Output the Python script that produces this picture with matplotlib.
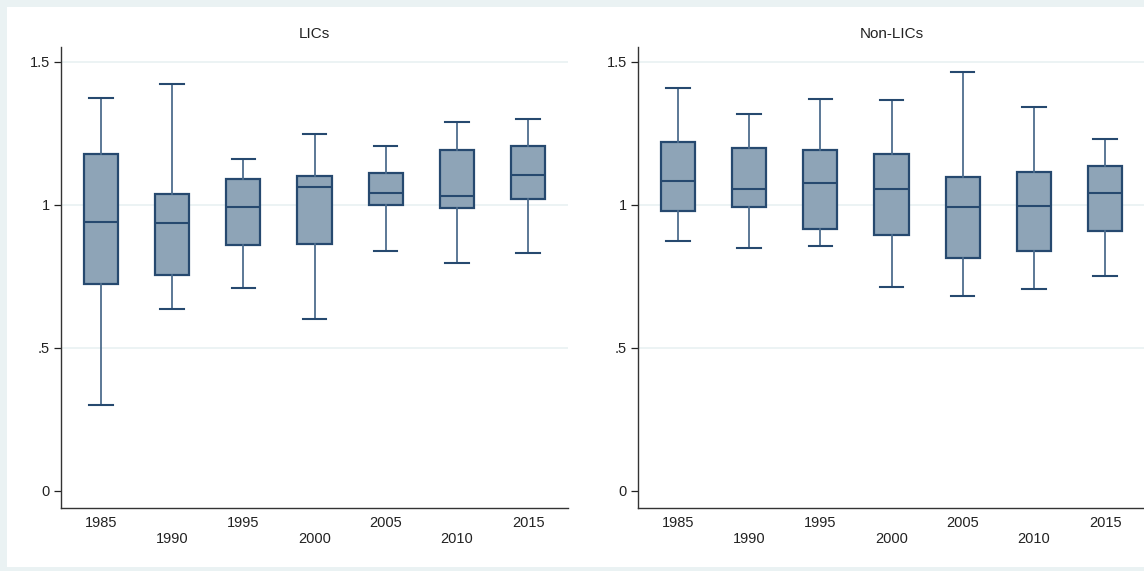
import matplotlib
matplotlib.use("Agg")
import matplotlib.pyplot as plt
from matplotlib.patches import Rectangle

plt.rcParams['font.family'] = ['Liberation Sans', 'DejaVu Sans']

# data
years = [1985, 1990, 1995, 2000, 2005, 2010, 2015]

lic_lo  = [0.302, 0.635, 0.710, 0.602, 0.838, 0.797, 0.832]
lic_q1  = [0.725, 0.755, 0.861, 0.864, 0.998, 0.988, 1.019]
lic_med = [0.939, 0.938, 0.994, 1.063, 1.043, 1.030, 1.105]
lic_q3  = [1.179, 1.038, 1.092, 1.101, 1.113, 1.192, 1.207]
lic_hi  = [1.375, 1.424, 1.162, 1.247, 1.205, 1.290, 1.299]

non_lo  = [0.873, 0.850, 0.855, 0.713, 0.682, 0.707, 0.751]
non_q1  = [0.979, 0.991, 0.916, 0.896, 0.815, 0.838, 0.908]
non_med = [1.082, 1.057, 1.075, 1.056, 0.994, 0.997, 1.040]
non_q3  = [1.219, 1.200, 1.193, 1.178, 1.097, 1.115, 1.136]
non_hi  = [1.408, 1.319, 1.371, 1.367, 1.464, 1.342, 1.231]

yticks = [0, 0.5, 1, 1.5]
ytick_labels = ["0", ".5", "1", "1.5"]

bg = "#EAF2F3"
edge = "#26496F"
whisk = "#4E6D8D"
fill = "#8EA4B7"

fig = plt.figure(figsize=(11.44, 5.71), dpi=100, facecolor=bg)
# white plot region (behind the axes)
fig.patches.append(Rectangle((7 / 1144, 4 / 571), 1.0, 560 / 571, transform=fig.transFigure,
                             facecolor="white", edgecolor="none", zorder=-10))


def panel(ax, title, lo, q1, med, q3, hi):
    stats = []
    for i in range(len(years)):
        stats.append(dict(whislo=lo[i], q1=q1[i], med=med[i], q3=q3[i], whishi=hi[i], fliers=[]))
    ax.bxp(stats, positions=range(len(years)), widths=0.48, capwidths=0.33,
           patch_artist=True, showfliers=False,
           boxprops=dict(facecolor=fill, edgecolor=edge, linewidth=1.6),
           medianprops=dict(color=edge, linewidth=1.5),
           whiskerprops=dict(color=whisk, linewidth=1.3),
           capprops=dict(color=edge, linewidth=1.5))
    for y in [0.5, 1, 1.5]:
        ax.axhline(y, color=bg, linewidth=1.3, zorder=0)
    ax.set_xlim(-0.56, 6.56)
    ax.set_ylim(-0.058, 1.551)
    ax.set_yticks(yticks)
    ax.set_yticklabels(ytick_labels)
    ax.set_xticks(range(len(years)))
    ax.set_xticklabels([str(y) if i % 2 == 0 else "\n" + str(y) for i, y in enumerate(years)])
    ax.tick_params(axis="x", length=0, pad=6, labelsize=10.5, colors="#222222")
    ax.tick_params(axis="y", length=5, width=0.9, pad=3, labelsize=10.5, colors="#222222")
    for s in ["top", "right"]:
        ax.spines[s].set_visible(False)
    for s in ["left", "bottom"]:
        ax.spines[s].set_color("#333333")
        ax.spines[s].set_linewidth(1.0)
    ax.set_facecolor("white")
    ax.set_title(title, fontsize=11, color="#222222", pad=7)


ax1 = fig.add_axes([61 / 1144, 63.5 / 571, 507 / 1144, 460.2 / 571])
ax2 = fig.add_axes([638 / 1144, 63.5 / 571, 507 / 1144, 460.2 / 571])
panel(ax1, "LICs", lic_lo, lic_q1, lic_med, lic_q3, lic_hi)
panel(ax2, "Non-LICs", non_lo, non_q1, non_med, non_q3, non_hi)

fig.savefig("out.png", dpi=100, facecolor=bg)
